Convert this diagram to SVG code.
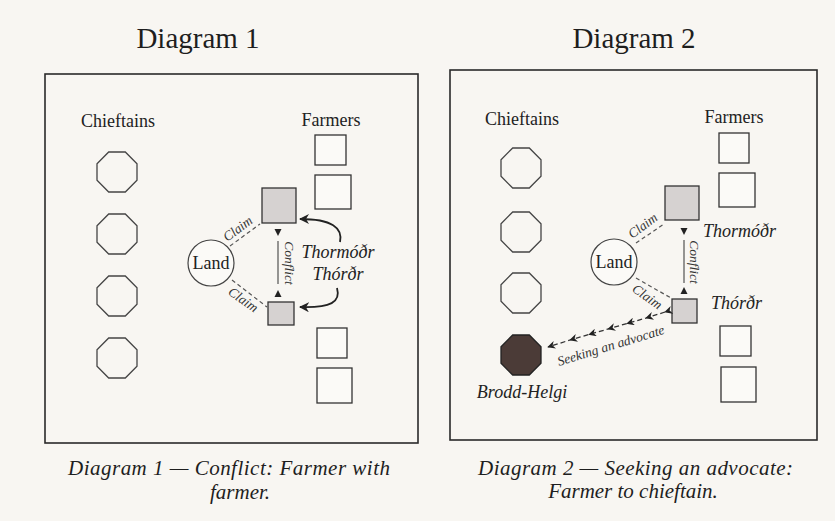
<svg xmlns="http://www.w3.org/2000/svg" width="835" height="521" viewBox="0 0 835 521">
<style>
.title{font-family:"Liberation Serif",serif;font-size:29px;fill:#1e1e1e;text-anchor:middle}
.cap{font-family:"Liberation Serif",serif;font-style:italic;font-size:21px;fill:#1e1e1e}
.hdr{font-family:"Liberation Serif",serif;font-size:18px;fill:#222;text-anchor:middle}
.name{font-family:"Liberation Serif",serif;font-style:italic;font-size:18px;fill:#222}
.small{font-family:"Liberation Serif",serif;font-style:italic;font-size:13.5px;fill:#333;text-anchor:middle}
.frame{fill:none;stroke:#2a2a2a;stroke-width:1.6}
.oct{fill:none;stroke:#444;stroke-width:1.3}
.sq{fill:#fbfaf7;stroke:#333;stroke-width:1.3}
.gsq{fill:#d6d2d1;stroke:#333;stroke-width:1.3}
.land{fill:#fbfaf7;stroke:#444;stroke-width:1.2}
.claim{stroke:#555;stroke-width:1.2;stroke-dasharray:4 3;fill:none}
.cline{stroke:#333;stroke-width:1;fill:none}
.tri{fill:#222}
.curve{stroke:#222;stroke-width:1.8;fill:none;marker-end:url(#ah)}
.seek{stroke:#333;stroke-width:1.3;stroke-dasharray:5 3;fill:none;marker-start:url(#sh);marker-mid:url(#sh);marker-end:url(#sh)}
</style>
<defs>
<polygon id="octagon" points="-8.3,-20 8.3,-20 20,-8.3 20,8.3 8.3,20 -8.3,20 -20,8.3 -20,-8.3"/>
<marker id="ah" viewBox="0 0 10 10" refX="9" refY="5" markerWidth="10" markerHeight="10" orient="auto" markerUnits="userSpaceOnUse">
<path d="M0,0 L10,5 L0,10 L3,5 Z" fill="#222"/>
</marker>
<marker id="sh" viewBox="0 0 10 10" refX="9" refY="5" markerWidth="8" markerHeight="8" orient="auto" markerUnits="userSpaceOnUse">
<path d="M0,0 L10,5 L0,10 L3,5 Z" fill="#222"/>
</marker>
</defs>
<rect x="0" y="0" width="835" height="521" fill="#f8f6f2"/>

<g id="titles">
<text class="title" x="198" y="48">Diagram 1</text>
<text class="title" x="634" y="48">Diagram 2</text>
</g>

<g id="frames">
<rect class="frame" x="45" y="74" width="373" height="369"/>
<rect class="frame" x="450" y="70" width="367" height="370"/>
</g>

<!-- ===== Diagram 1 ===== -->
<g id="d1-headers">
<text class="hdr" x="118" y="127">Chieftains</text>
<text class="hdr" x="331" y="126">Farmers</text>
</g>
<g id="d1-chief1"><use href="#octagon" class="oct" x="117" y="172"/></g>
<g id="d1-chief2"><use href="#octagon" class="oct" x="117" y="234"/></g>
<g id="d1-chief3"><use href="#octagon" class="oct" x="117" y="296"/></g>
<g id="d1-chief4"><use href="#octagon" class="oct" x="117" y="358"/></g>
<g id="d1-farmer1"><rect class="sq" x="315" y="135" width="31" height="30"/></g>
<g id="d1-farmer2"><rect class="sq" x="315" y="175" width="36" height="34"/></g>
<g id="d1-farmer3"><rect class="sq" x="317" y="328" width="30" height="30"/></g>
<g id="d1-farmer4"><rect class="sq" x="317" y="368" width="35" height="35"/></g>
<g id="d1-thormodr"><rect class="gsq" x="262" y="188" width="34" height="35"/></g>
<g id="d1-thordr"><rect class="gsq" x="268" y="302" width="26" height="23"/></g>
<g id="d1-land">
<circle class="land" cx="211" cy="263" r="23"/>
<text class="hdr" x="211" y="269">Land</text>
</g>
<g id="d1-names">
<text class="name" x="338" y="258" text-anchor="middle">Thormóðr</text>
<text class="name" x="338" y="280" text-anchor="middle">Thórðr</text>
</g>
<g id="d1-connectors">
<line class="claim" x1="230" y1="246" x2="260" y2="224"/>
<line class="claim" x1="232" y1="280" x2="267" y2="307"/>
<polygon class="tri" points="274.5,229 281.5,229 278,236"/>
<line class="cline" x1="278" y1="241" x2="278" y2="284"/>
<polygon class="tri" points="274.5,297 281.5,297 278,290"/>
<path class="curve" d="M340,242 C343,228 332,219 300,219"/>
<path class="curve" d="M337,288 C341,302 331,308 300,307"/>
<text class="small" transform="translate(238,229) rotate(-37)" y="4">Claim</text>
<text class="small" transform="translate(243,300) rotate(35)" y="4">Claim</text>
<text class="small" transform="translate(289,263) rotate(90)" y="4">Conflict</text>
</g>

<!-- ===== Diagram 2 ===== -->
<g id="d2-headers">
<text class="hdr" x="522" y="125">Chieftains</text>
<text class="hdr" x="734" y="123">Farmers</text>
</g>
<g id="d2-chief1"><use href="#octagon" class="oct" x="521" y="168"/></g>
<g id="d2-chief2"><use href="#octagon" class="oct" x="521" y="232"/></g>
<g id="d2-chief3"><use href="#octagon" class="oct" x="521" y="293"/></g>
<g id="d2-brodd">
<use href="#octagon" x="521" y="355" fill="#4b3b37" stroke="#222" stroke-width="1.3"/>
<text class="name" x="522" y="398" text-anchor="middle">Brodd-Helgi</text>
</g>
<g id="d2-farmer1"><rect class="sq" x="719" y="133" width="30" height="30"/></g>
<g id="d2-farmer2"><rect class="sq" x="719" y="173" width="36" height="34"/></g>
<g id="d2-farmer3"><rect class="sq" x="720" y="326" width="31" height="30"/></g>
<g id="d2-farmer4"><rect class="sq" x="721" y="367" width="35" height="35"/></g>
<g id="d2-thormodr">
<rect class="gsq" x="665" y="186" width="34" height="34"/>
<text class="name" x="703" y="237">Thormóðr</text>
</g>
<g id="d2-thordr">
<rect class="gsq" x="672" y="299" width="25" height="24"/>
<text class="name" x="711" y="309">Thórðr</text>
</g>
<g id="d2-land">
<circle class="land" cx="614" cy="262" r="23"/>
<text class="hdr" x="614" y="268">Land</text>
</g>
<g id="d2-connectors">
<line class="claim" x1="636" y1="243" x2="664" y2="224"/>
<line class="claim" x1="636" y1="278" x2="671" y2="298"/>
<polygon class="tri" points="680.5,228 687.5,228 684,235"/>
<line class="cline" x1="684" y1="240" x2="684" y2="283"/>
<polygon class="tri" points="680.5,294 687.5,294 684,287"/>
<path class="seek" d="M665,312 L646,318 L627,323.5 L608,329 L589,334.5 L570,340 L548,347"/>
<text class="small" transform="translate(643,226) rotate(-37)" y="4">Claim</text>
<text class="small" transform="translate(647,297) rotate(35)" y="4">Claim</text>
<text class="small" transform="translate(694,262) rotate(90)" y="4">Conflict</text>
<text class="small" transform="translate(611,346) rotate(-17)" y="4">Seeking an advocate</text>
</g>

<g id="captions">
<text class="cap" x="68" y="475" textLength="322" lengthAdjust="spacing">Diagram 1 — Conflict: Farmer with</text>
<text class="cap" x="240" y="499" text-anchor="middle">farmer.</text>
<text class="cap" x="478" y="475" textLength="315" lengthAdjust="spacing">Diagram 2 — Seeking an advocate:</text>
<text class="cap" x="633" y="498" text-anchor="middle">Farmer to chieftain.</text>
</g>
</svg>
